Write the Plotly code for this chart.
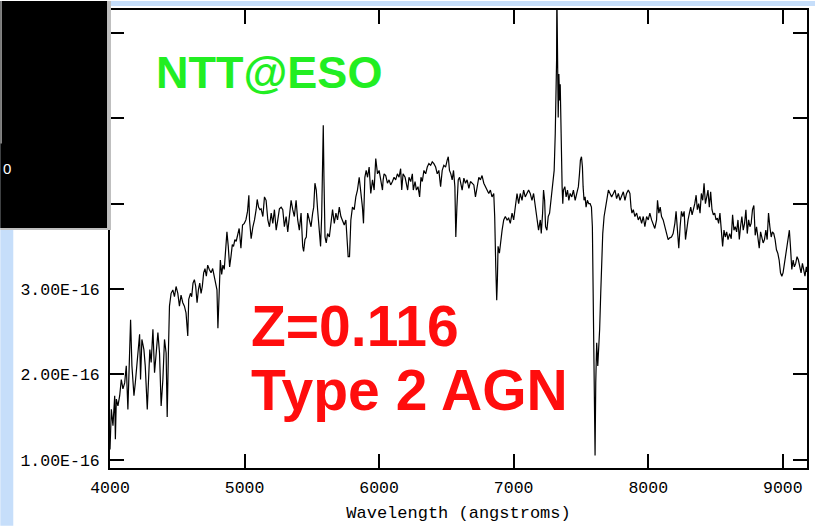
import plotly.graph_objects as go

# Spectrum: observed wavelength (angstroms) and flux in units of 1e-16
wavelength = [
    4000, 4010, 4022, 4035, 4040, 4047, 4059, 4072, 4084, 4096, 4109, 4121, 4133, 4146, 4153,
    4163, 4170, 4178, 4188, 4195, 4207, 4220, 4227, 4237, 4252, 4262, 4277, 4286, 4296, 4306,
    4319, 4331, 4343, 4356, 4368, 4380, 4393, 4405, 4417, 4425, 4435, 4442, 4454, 4467, 4479,
    4491, 4504, 4516, 4528, 4541, 4553, 4565, 4578, 4585, 4598, 4607, 4617, 4627, 4637, 4647,
    4657, 4667, 4677, 4686, 4696, 4706, 4716, 4726, 4738, 4751, 4763, 4775, 4788, 4795, 4802,
    4812, 4820, 4830, 4839, 4849, 4862, 4869, 4879, 4889, 4899, 4909, 4918, 4928, 4938, 4948,
    4960, 4973, 4985, 4998, 5010, 5022, 5032,
    5037, 5049, 5062, 5074, 5086, 5094, 5104, 5114, 5123, 5136, 5148, 5160, 5173, 5185, 5198,
    5210, 5222, 5235, 5247, 5259, 5272, 5284, 5296, 5309, 5321, 5333, 5346, 5358, 5370, 5383,
    5395, 5407, 5420, 5432, 5439, 5449, 5459, 5469, 5481, 5494, 5506, 5514, 5523, 5533, 5543,
    5556, 5565, 5573, 5580, 5585, 5590, 5598, 5607, 5617, 5630, 5642, 5654, 5667, 5679, 5691,
    5704, 5716, 5728, 5741, 5753, 5760, 5770, 5780, 5790, 5802, 5815, 5827, 5839, 5852, 5859,
    5869, 5876, 5884, 5894, 5904, 5914, 5926, 5938, 5951, 5963, 5975, 5988, 6000, 6012, 6025,
    6030, 6037, 6049, 6062, 6074, 6086, 6099, 6111, 6123, 6136, 6148, 6160, 6168, 6178, 6193,
    6202, 6212, 6222, 6235, 6247, 6254, 6267, 6277, 6289, 6301, 6311, 6321, 6333, 6346, 6358,
    6370, 6383, 6395, 6407, 6420, 6432, 6444, 6457, 6469, 6481, 6494, 6506, 6514, 6523, 6533,
    6543, 6553, 6563, 6570, 6578, 6588, 6598, 6607, 6617, 6630, 6642, 6654, 6667, 6679, 6691,
    6704, 6716, 6728, 6741, 6753, 6765, 6778, 6790, 6802, 6815, 6827, 6839, 6852, 6859, 6867,
    6874, 6879, 6884, 6894, 6904, 6914, 6926, 6938, 6951, 6963, 6975, 6988, 7000, 7012, 7025,
    7037, 7049, 7062, 7074, 7086, 7099, 7111, 7123, 7136, 7148, 7160, 7173, 7185, 7198, 7205,
    7215, 7222, 7230, 7237, 7247, 7257, 7267, 7277, 7286, 7296, 7301, 7309, 7314, 7319, 7321,
    7326, 7331, 7336, 7341, 7346, 7351, 7356, 7360, 7365, 7370, 7380, 7390, 7400, 7410, 7420,
    7432, 7444, 7457, 7469, 7481, 7489, 7496, 7504, 7511, 7516, 7523, 7531, 7538, 7548, 7558,
    7568, 7578, 7585, 7590, 7595, 7600, 7605, 7610, 7617, 7625, 7632, 7639, 7647, 7654, 7662,
    7672, 7681, 7691, 7704, 7716, 7728, 7741, 7753, 7765, 7778, 7790, 7802, 7815, 7827, 7839,
    7852, 7864, 7872, 7879, 7889, 7901, 7914, 7926, 7938, 7951, 7963, 7975, 7988, 8000, 8012,
    8025, 8049, 8062, 8069, 8079, 8089, 8099, 8111, 8123, 8136, 8148, 8160, 8173, 8185, 8198,
    8207, 8217, 8227, 8237, 8247, 8257, 8267, 8277, 8286, 8296, 8306, 8316, 8326, 8336, 8346,
    8356, 8365, 8375, 8385, 8395, 8405, 8415, 8425, 8435, 8444, 8454, 8464, 8474, 8484, 8494,
    8504, 8514, 8523, 8533, 8543, 8553, 8563, 8573, 8583, 8593, 8605, 8617, 8627, 8637, 8647,
    8657, 8667, 8677, 8686, 8696, 8706, 8716, 8726, 8736, 8746, 8756, 8765, 8775, 8785, 8795,
    8805, 8815, 8825, 8835, 8844, 8854, 8864, 8874, 8884, 8894, 8904, 8914, 8923, 8933, 8943,
    8953, 8963, 8973, 8983, 8993, 9002, 9012, 9022, 9032, 9042, 9049, 9057, 9067, 9077, 9086,
    9096, 9106, 9116, 9126, 9136, 9146, 9156, 9165, 9175, 9180,
]
flux = [
    1.12, 1.59, 1.40, 1.75, 1.24, 1.71, 1.63, 1.75, 1.94, 1.83, 1.90, 2.10, 1.59, 2.33, 2.64,
    2.10, 1.94, 1.75, 1.90, 2.02, 2.25, 2.47, 1.94, 2.41, 2.29, 2.10, 1.59, 1.94, 2.29, 2.14,
    2.53, 2.02, 2.25, 2.49, 2.25, 1.63, 1.94, 2.41, 2.25, 1.50, 2.33, 2.80, 2.95, 2.99, 2.91,
    3.03, 2.95, 2.80, 2.93, 2.84, 2.80, 2.72, 2.45, 2.88, 2.95, 2.91, 3.07, 3.11, 3.03, 2.84,
    2.99, 3.07, 2.95, 3.03, 3.19, 3.24, 3.15, 3.28, 3.23, 3.19, 3.24, 3.15, 3.07, 2.99, 2.54,
    3.03, 3.34, 3.17, 3.28, 3.23, 3.50, 3.67, 3.50, 3.26, 3.38, 3.52, 3.50, 3.58, 3.56, 3.65,
    3.71, 3.48, 3.75, 3.77, 3.81, 3.91, 4.10,
    3.81, 3.59, 3.73, 3.81, 3.93, 4.05, 3.96, 3.93, 3.94, 3.85, 4.08, 4.04, 3.81, 3.73, 3.89,
    3.77, 3.93, 3.69, 3.81, 3.94, 3.96, 3.93, 3.73, 3.85, 3.67, 3.89, 4.04, 3.93, 3.85, 4.04,
    3.81, 3.69, 3.89, 3.50, 3.44, 3.58, 3.61, 3.89, 3.81, 3.73, 3.89, 3.96, 4.24, 4.16, 3.93,
    3.65, 3.50, 3.85, 4.39, 4.92, 4.31, 3.61, 3.54, 3.65, 3.61, 3.81, 3.93, 3.77, 3.89, 3.81,
    3.96, 3.85, 3.81, 3.75, 3.81, 3.61, 3.38, 3.38, 3.81, 3.96, 3.93, 4.08, 4.16, 4.31, 4.20,
    4.12, 3.96, 3.77, 4.31, 4.39, 4.31, 4.43, 4.12, 4.28, 4.16, 4.53, 4.35, 4.39, 4.28, 4.16,
    4.28, 4.35, 4.33, 4.24, 4.28, 4.22, 4.26, 4.31, 4.28, 4.35, 4.31, 4.41, 4.16, 4.35, 4.31,
    4.24, 4.16, 4.31, 4.26, 4.35, 4.16, 4.26, 4.16, 4.20, 4.08, 4.31, 4.26, 4.39, 4.35, 4.43,
    4.47, 4.45, 4.49, 4.47, 4.43, 4.35, 4.39, 4.20, 4.39, 4.45, 4.43, 4.51, 4.55, 4.39, 4.35,
    4.28, 4.39, 4.20, 3.61, 3.96, 4.28, 4.31, 4.24, 4.16, 4.30, 4.24, 4.28, 4.18, 4.26, 4.24,
    4.22, 4.08, 4.20, 4.31, 4.28, 4.33, 4.24, 4.20, 4.16, 4.12, 4.16, 4.08, 4.12, 3.85, 3.26,
    2.87, 3.11, 3.50, 3.42, 3.58, 3.69, 3.81, 3.85, 3.81, 3.83, 3.77, 3.89, 3.81, 4.00, 4.12,
    4.00, 4.12, 4.04, 4.16, 4.08, 4.12, 4.16, 4.12, 4.04, 4.12, 3.96, 3.81, 3.69, 3.81, 3.65,
    3.89, 4.16, 4.04, 3.73, 3.69, 3.85, 3.89, 4.04, 4.20, 4.28, 4.39, 4.82, 5.21, 5.68, 6.50,
    5.68, 5.01, 5.52, 5.21, 5.40, 4.90, 4.24, 4.20, 4.00, 4.16, 4.20, 4.08, 4.16, 4.04, 4.12,
    4.08, 4.16, 4.04, 4.12, 4.20, 4.35, 4.51, 4.55, 4.43, 4.20, 4.04, 4.08, 3.96, 4.04, 4.00,
    4.00, 3.96, 3.73, 2.88, 2.10, 1.48, 1.05, 1.90, 2.37, 2.10, 2.29, 2.53, 2.95, 3.42, 3.65,
    3.85, 3.93, 4.04, 4.16, 4.12, 4.08, 4.12, 4.16, 4.06, 4.12, 4.04, 4.08, 4.14, 4.04, 4.12,
    4.16, 4.12, 3.96, 3.89, 3.93, 3.85, 3.89, 3.81, 3.85, 3.77, 3.85, 3.73, 3.85, 3.81, 3.89,
    3.81, 3.71, 3.81, 4.04, 3.89, 3.96, 3.85, 3.81, 3.73, 3.65, 3.58, 3.60, 3.61, 3.65, 3.77,
    3.91, 3.65, 3.48, 3.73, 3.91, 3.85, 3.91, 3.58, 3.73, 3.81, 3.89, 3.96, 3.87, 3.93, 4.00,
    4.10, 3.93, 4.00, 3.89, 4.12, 4.04, 4.24, 4.00, 4.08, 4.16, 3.96, 4.14, 3.93, 3.87, 3.89,
    3.81, 3.83, 3.77, 3.89, 3.73, 3.50, 3.69, 3.61, 3.67, 3.58, 3.65, 3.59, 3.87, 3.69, 3.73,
    3.67, 3.81, 3.58, 3.73, 3.85, 3.69, 3.77, 3.93, 3.65, 3.81, 3.73, 3.77, 3.93, 3.98, 3.63,
    3.73, 3.61, 3.48, 3.67, 3.61, 3.54, 3.58, 3.69, 3.58, 3.89, 3.73, 3.61, 3.67, 3.65, 3.58,
    3.46, 3.42, 3.34, 3.19, 3.15, 3.19, 3.30, 3.42, 3.54, 3.65, 3.69, 3.50, 3.23, 3.34, 3.26,
    3.30, 3.38, 3.34, 3.26, 3.19, 3.30, 3.23, 3.15, 3.26, 3.20,
]

FLUX_UNIT = 1e-16
x_ticks = [4000, 5000, 6000, 7000, 8000, 9000]
y_ticks = [1, 2, 3, 4, 5, 6]
y_tick_labels = ["1.00E-16", "2.00E-16", "3.00E-16", "4.00E-16", "5.00E-16", "6.00E-16"]

# Page geometry (pixels) and plot-area margins
W, H = 817, 527
ML, MR, MT, MB = 110, 8, 9, 58


def fx(xp):
    """Pixel column -> paper fraction."""
    return (xp - ML) / (W - ML - MR)


def fy(yp):
    """Pixel row (from top) -> paper fraction."""
    return (H - MB - yp) / (H - MT - MB)


fig = go.Figure(
    go.Scatter(
        x=wavelength,
        y=[v * FLUX_UNIT for v in flux],
        mode="lines",
        line=dict(color="black", width=1.2),
        hoverinfo="skip",
    )
)

tick_font = dict(family="Liberation Mono", size=16.5, color="black")
axis_style = dict(
    showline=True, linecolor="black", linewidth=2, mirror="ticks",
    ticks="inside", ticklen=14, tickwidth=2, tickcolor="black",
    showgrid=False, zeroline=False, tickfont=tick_font,
)

fig.update_xaxes(
    range=[4000, 9180], tickvals=x_ticks, ticktext=[str(v) for v in x_ticks],
    ticklabelstandoff=3,
    title=dict(text="Wavelength (angstroms)",
               font=dict(family="Liberation Mono", size=17, color="black"),
               standoff=9),
    **axis_style,
)
fig.update_yaxes(
    range=[0.903 * FLUX_UNIT, 6.27 * FLUX_UNIT],
    tickvals=[v * FLUX_UNIT for v in y_ticks], ticktext=y_tick_labels,
    ticklabelstandoff=5,
    **axis_style,
)

slide_blue = "#c6defa"
shapes = [
    # slide background strips
    dict(type="rect", x0=fx(0), x1=fx(13), y0=fy(H), y1=fy(0), fillcolor=slide_blue, line_width=0),
    dict(type="rect", x0=fx(0), x1=fx(W), y0=fy(5), y1=fy(0), fillcolor=slide_blue, line_width=0),
    # dark inset panel in the upper-left corner
    dict(type="rect", x0=fx(0), x1=fx(111), y0=fy(230), y1=fy(0), fillcolor="#bfbfbf", line_width=0),
    dict(type="rect", x0=fx(0), x1=fx(107), y0=fy(228), y1=fy(0), fillcolor="black", line_width=0),
    dict(type="line", x0=fx(0.8), x1=fx(0.8), y0=fy(143), y1=fy(0), line=dict(color="#9a9a9a", width=1.5)),
]
for s in shapes:
    s.update(xref="paper", yref="paper", layer="above")

label_font = "Liberation Sans"
annotations = [
    dict(text="0", x=fx(0.5), y=fy(168), xanchor="left", yanchor="middle",
         font=dict(family=label_font, size=15, color="white")),
    dict(text="<b>NTT@ESO</b>", x=fx(154), y=fy(72), xanchor="left", yanchor="middle",
         font=dict(family=label_font, size=45, color="#22ee22")),
    dict(text="<b>Z=0.116</b>", x=fx(249), y=fy(326.5), xanchor="left", yanchor="middle",
         font=dict(family=label_font, size=57, color="#ff0d0d")),
    dict(text="<b>Type 2 AGN</b>", x=fx(249), y=fy(390.5), xanchor="left", yanchor="middle",
         font=dict(family=label_font, size=57, color="#ff0d0d")),
]
for a in annotations:
    a.update(xref="paper", yref="paper", showarrow=False)

fig.update_layout(
    width=W, height=H, autosize=False,
    margin=dict(l=ML, r=MR, t=MT, b=MB, pad=0),
    paper_bgcolor="white", plot_bgcolor="white",
    showlegend=False,
    shapes=shapes, annotations=annotations,
)

fig.write_html("out.html")
